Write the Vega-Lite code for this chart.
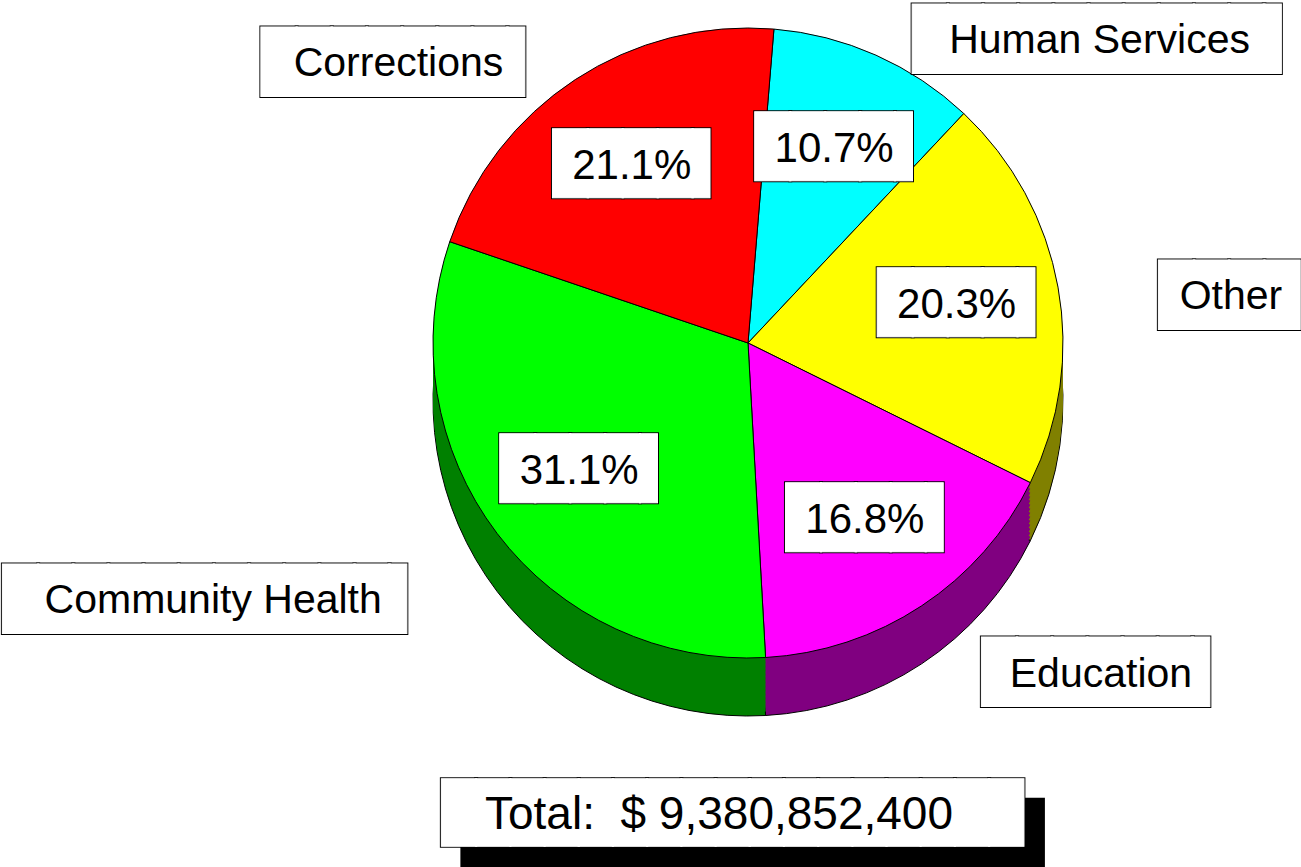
{
  "$schema": "https://vega.github.io/schema/vega-lite/v6.json",
  "width": 1000,
  "height": 686,
  "autosize": {"type": "none"},
  "padding": {"left": 248, "top": 0, "right": 53, "bottom": 181},
  "background": "white",
  "config": {"view": {"stroke": null}},
  "layer": [
    {
      "data": {"values": [
        {"category": "Human Services", "share": 0.107},
        {"category": "Other", "share": 0.203},
        {"category": "Education", "share": 0.168},
        {"category": "Community Health", "share": 0.311},
        {"category": "Corrections", "share": 0.211}
      ]},
      "transform": [{"window": [{"op": "row_number", "as": "idx"}]}],
      "encoding": {
        "theta": {"field": "share", "type": "quantitative", "stack": true, "scale": {"range": [0.0824, 6.3656]}},
        "order": {"field": "idx", "type": "quantitative"}
      },
      "layer": [
        {
          "encoding": {"color": {"field": "category", "type": "nominal", "legend": null, "scale": {"domain": ["Human Services", "Other", "Education", "Community Health", "Corrections"], "range": ["#008080", "#808000", "#800080", "#008000", "#800000"]}}},
          "layer": [
            {"mark": {"type": "arc", "radius": 315, "yOffset": 58, "stroke": "black", "strokeWidth": 1}},
            {"mark": {"type": "arc", "radius": 315, "yOffset": 54, "strokeWidth": 0}},
            {"mark": {"type": "arc", "radius": 315, "yOffset": 50, "strokeWidth": 0}},
            {"mark": {"type": "arc", "radius": 315, "yOffset": 46, "strokeWidth": 0}},
            {"mark": {"type": "arc", "radius": 315, "yOffset": 42, "strokeWidth": 0}},
            {"mark": {"type": "arc", "radius": 315, "yOffset": 38, "strokeWidth": 0}},
            {"mark": {"type": "arc", "radius": 315, "yOffset": 34, "strokeWidth": 0}},
            {"mark": {"type": "arc", "radius": 315, "yOffset": 30, "strokeWidth": 0}},
            {"mark": {"type": "arc", "radius": 315, "yOffset": 26, "strokeWidth": 0}},
            {"mark": {"type": "arc", "radius": 315, "yOffset": 22, "strokeWidth": 0}},
            {"mark": {"type": "arc", "radius": 315, "yOffset": 18, "strokeWidth": 0}},
            {"mark": {"type": "arc", "radius": 315, "yOffset": 14, "strokeWidth": 0}},
            {"mark": {"type": "arc", "radius": 315, "yOffset": 10, "strokeWidth": 0}},
            {"mark": {"type": "arc", "radius": 315, "yOffset": 6, "strokeWidth": 0}},
            {"mark": {"type": "arc", "radius": 315, "yOffset": 2, "strokeWidth": 0}}
          ]
        },
        {"mark": {"type": "arc", "radius": 315, "stroke": "black", "strokeWidth": 1},
         "encoding": {"color": {"field": "category", "type": "nominal", "legend": null, "scale": {"domain": ["Human Services", "Other", "Education", "Community Health", "Corrections"], "range": ["#00FFFF", "#FFFF00", "#FF00FF", "#00FF00", "#FF0000"]}}}},

        {"mark": {"type": "text", "radius": 212, "font": "DejaVu Sans Mono", "fontSize": 58, "text": "████▌", "fill": "black", "stroke": "black", "strokeWidth": 3, "dx": 8.7, "align": "center", "baseline": "middle"}},
        {"mark": {"type": "text", "radius": 212, "font": "DejaVu Sans Mono", "fontSize": 58, "text": "████▌", "fill": "white", "stroke": "white", "strokeWidth": 1, "dx": 8.7, "align": "center", "baseline": "middle"}},
        {"mark": {"type": "text", "radius": 212, "font": "Liberation Sans", "fontSize": 42, "fill": "black", "align": "center", "baseline": "middle"},
         "encoding": {"text": {"field": "share", "type": "quantitative", "format": ".1%"}}},

        {"mark": {"type": "text", "radius": 320, "font": "DejaVu Sans Mono", "fontSize": 58.4, "fill": "black", "stroke": "black", "strokeWidth": 3, "align": "center", "baseline": "middle",
                  "dx": {"expr": "datum.category === 'Human Services' ? 227.8 : datum.category === 'Other' ? 166.1 : datum.category === 'Education' ? 180.4 : datum.category === 'Community Health' ? -279.5 : -170.6"},
                  "dy": {"expr": "datum.category === 'Human Services' ? -9.9 : datum.category === 'Other' ? 10.6 : datum.category === 'Education' ? 64.2 : datum.category === 'Community Health' ? 64.0 : -11.8"}},
         "encoding": {"text": {"condition": [
           {"test": "datum.category === 'Human Services'", "value": "██████████▌"},
           {"test": "datum.category === 'Other'", "value": "████"},
           {"test": "datum.category === 'Education'", "value": "██████▌"},
           {"test": "datum.category === 'Community Health'", "value": "███████████▌"}
         ], "value": "███████▌"}}},
        {"mark": {"type": "text", "radius": 320, "font": "DejaVu Sans Mono", "fontSize": 58.4, "fill": "white", "stroke": "white", "strokeWidth": 1, "align": "center", "baseline": "middle",
                  "dx": {"expr": "datum.category === 'Human Services' ? 227.8 : datum.category === 'Other' ? 166.1 : datum.category === 'Education' ? 180.4 : datum.category === 'Community Health' ? -279.5 : -170.6"},
                  "dy": {"expr": "datum.category === 'Human Services' ? -9.9 : datum.category === 'Other' ? 10.6 : datum.category === 'Education' ? 64.2 : datum.category === 'Community Health' ? 64.0 : -11.8"}},
         "encoding": {"text": {"condition": [
           {"test": "datum.category === 'Human Services'", "value": "██████████▌"},
           {"test": "datum.category === 'Other'", "value": "████"},
           {"test": "datum.category === 'Education'", "value": "██████▌"},
           {"test": "datum.category === 'Community Health'", "value": "███████████▌"}
         ], "value": "███████▌"}}},
        {"mark": {"type": "text", "radius": 320, "font": "Liberation Sans", "fontSize": 41, "fill": "black", "align": "center", "baseline": "middle",
                  "dx": {"expr": "datum.category === 'Human Services' ? 221.5 : datum.category === 'Other' ? 168 : datum.category === 'Education' ? 176.6 : datum.category === 'Community Health' ? -280 : -174"},
                  "dy": {"expr": "datum.category === 'Human Services' ? -9.4 : datum.category === 'Other' ? 11.1 : datum.category === 'Education' ? 64.7 : datum.category === 'Community Health' ? 64.5 : -11.3"}},
         "encoding": {"text": {"field": "category", "type": "nominal"}}}
      ],
      "resolve": {"scale": {"color": "independent"}}
    },
    {
      "data": {"values": [{"label": "Total:\u00a0 $ 9,380,852,400", "total": 9380852400}]},
      "layer": [
        {"mark": {"type": "text", "font": "DejaVu Sans Mono", "fontSize": 56.8, "text": "█████████████████", "fill": "black", "stroke": "black", "strokeWidth": 2, "dx": 4.5, "dy": 492, "align": "center", "baseline": "middle"}},
        {"mark": {"type": "text", "font": "DejaVu Sans Mono", "fontSize": 56.8, "text": "█████████████████", "fill": "black", "stroke": "black", "strokeWidth": 3, "dx": -15.5, "dy": 472.2, "align": "center", "baseline": "middle"}},
        {"mark": {"type": "text", "font": "DejaVu Sans Mono", "fontSize": 56.8, "text": "█████████████████", "fill": "white", "stroke": "white", "strokeWidth": 1, "dx": -15.5, "dy": 472.2, "align": "center", "baseline": "middle"}},
        {"mark": {"type": "text", "font": "Liberation Sans", "fontSize": 46, "fill": "black", "dx": -29, "dy": 471.6, "align": "center", "baseline": "middle"},
         "encoding": {"text": {"field": "label", "type": "nominal"}}}
      ]
    }
  ]
}
